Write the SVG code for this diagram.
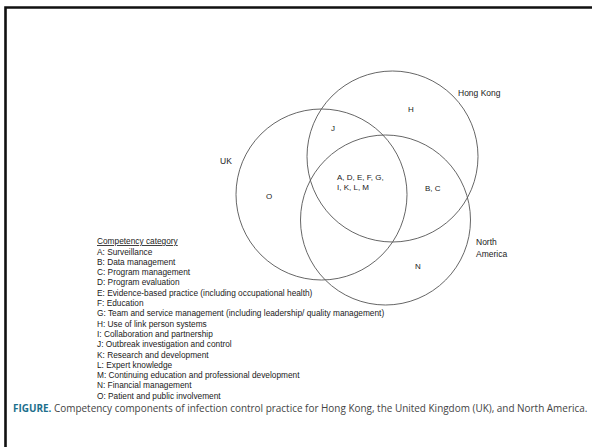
<svg xmlns="http://www.w3.org/2000/svg" width="592" height="447" viewBox="0 0 592 447">
<style>
.c{fill:none;stroke:#555;stroke-width:0.9}
.t{font-family:"Liberation Sans",Arial,sans-serif;font-size:8.5px;fill:#1a1a1a}
.r{font-size:8px}
.lg{font-family:"Liberation Sans",Arial,sans-serif;font-size:8.3px;fill:#1a1a1a}
.cap{font-family:"Open Sans","Noto Sans",sans-serif;font-size:9.95px;fill:#444}
.fig{font-weight:bold;fill:#1d6f8c}
</style>
<rect x="0" y="0" width="592" height="447" fill="#fff"/>
<path d="M5.5 447 V7.5 H600" fill="none" stroke="#111" stroke-width="2.6"/>
<g id="hongkong">
<circle class="c" cx="392.5" cy="156.5" r="85.5"/>
<text class="t" x="458" y="96">Hong Kong</text>
</g>
<g id="uk">
<circle class="c" cx="321.5" cy="194.5" r="85.5"/>
<text class="t" x="220" y="164">UK</text>
</g>
<g id="northamerica">
<circle class="c" cx="385.5" cy="220" r="85"/>
<text class="t" x="476" y="245">North</text>
<text class="t" x="476" y="257">America</text>
</g>
<g id="regions">
<text class="t r" x="408" y="112">H</text>
<text class="t r" x="331" y="131">J</text>
<text class="t r" x="266" y="199">O</text>
<text class="t r" x="337" y="180">A, D, E, F, G,</text>
<text class="t r" x="337" y="190">I, K, L, M</text>
<text class="t r" x="425" y="191">B, C</text>
<text class="t r" x="415" y="269">N</text>
</g>
<g id="legend">
<text class="lg" x="97" y="244" text-decoration="underline">Competency category</text>
<text class="lg" x="97" y="254.5">A: Surveillance</text>
<text class="lg" x="97" y="264.8">B: Data management</text>
<text class="lg" x="97" y="275.1">C: Program management</text>
<text class="lg" x="97" y="285.4">D: Program evaluation</text>
<text class="lg" x="97" y="295.7">E: Evidence-based practice (including occupational health)</text>
<text class="lg" x="97" y="306">F: Education</text>
<text class="lg" x="97" y="316.3">G: Team and service management (including leadership/ quality management)</text>
<text class="lg" x="97" y="326.6">H: Use of link person systems</text>
<text class="lg" x="97" y="336.9">I: Collaboration and partnership</text>
<text class="lg" x="97" y="347.2">J: Outbreak investigation and control</text>
<text class="lg" x="97" y="357.5">K: Research and development</text>
<text class="lg" x="97" y="367.8">L: Expert knowledge</text>
<text class="lg" x="97" y="378.1">M: Continuing education and professional development</text>
<text class="lg" x="97" y="388.4">N: Financial management</text>
<text class="lg" x="97" y="398.7">O: Patient and public involvement</text>
</g>
<g id="caption">
<text class="cap" x="13" y="412"><tspan class="fig">FIGURE.</tspan> Competency components of infection control practice for Hong Kong, the United Kingdom (UK), and North America.</text>
</g>
</svg>
